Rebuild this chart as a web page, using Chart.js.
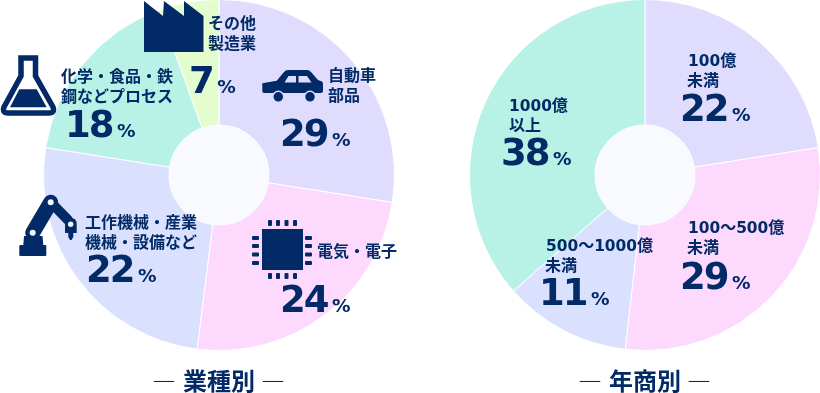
<!DOCTYPE html>
<html lang="ja">
<head>
<meta charset="utf-8">
<script src="https://cdn.jsdelivr.net/npm/chart.js@4"></script>
<style>
html,body{margin:0;padding:0;background:#fff;width:820px;height:393px;overflow:hidden}
#stage{position:relative;width:820px;height:393px;color:#022a66;font-family:"Noto Sans CJK JP","Noto Sans",sans-serif}
canvas{position:absolute;top:0}
svg{position:absolute;left:0;top:0}
.lab{position:absolute;font-size:16px;line-height:20px;font-weight:700;white-space:nowrap;letter-spacing:0}
.num{font-family:"DejaVu Sans";font-weight:700;font-size:15.4px}
.big{position:absolute;white-space:nowrap;font-family:"DejaVu Sans";font-weight:700;line-height:44px;height:44px}
.big b{font-size:37px;font-weight:700;letter-spacing:-2px}
.big i{font-style:normal;font-size:18.5px;margin-left:4.5px}
.title{position:absolute;top:363px;width:240px;text-align:center;font-size:24px;line-height:34px;font-weight:700;white-space:nowrap}
.title span{font-weight:500;display:inline-block;margin:0 7px 0 6px}
</style>
</head>
<body>
<div id="stage">
<canvas id="c1" width="352" height="352" style="left:43px;top:-1px"></canvas>
<canvas id="c2" width="352" height="352" style="left:469px;top:-1px"></canvas>
<svg width="820" height="393" fill="#022a66">
  <!-- factory -->
  <path d="M144 1L163 16L164 1L184 16L184 1L203.5 16V52H144Z"/>
  <!-- flask -->
  <path d="M21 58H35.500V76L53 107Q55 113 49 113H8Q2 113 4 107L21 76Z" fill="none" stroke="#022a66" stroke-width="5.500"/>
  <path d="M19.300 89.300H36.700L46.700 107.300H10Z"/>
  <!-- car -->
  <path fill-rule="evenodd" d="M262.300 83.300L276.700 80.700L284 72Q285.500 70 288 70H307Q309.500 70 311 72L318 80L322 81.500Q323 82 323 84V91Q323 93 321 93H264Q262.300 93 262.300 91ZM288.500 76L284.500 82.500H296V76ZM298.500 76V82.500H311.500L307 76Z"/>
  <circle cx="278.300" cy="96.800" r="5.500" stroke="#dfdcfd" stroke-width="1.500"/>
  <circle cx="310" cy="96.800" r="5.500" stroke="#dfdcfd" stroke-width="1.500"/>
  <!-- chip -->
  <rect x="262" y="229" width="41" height="41"/>
  <g id="pins">
    <rect x="268" y="220" width="4" height="6" rx="1"/><rect x="276" y="220" width="4" height="6" rx="1"/><rect x="284.500" y="220" width="4" height="6" rx="1"/><rect x="293" y="220" width="4" height="6" rx="1"/>
    <rect x="268" y="273" width="4" height="6" rx="1"/><rect x="276" y="273" width="4" height="6" rx="1"/><rect x="284.500" y="273" width="4" height="6" rx="1"/><rect x="293" y="273" width="4" height="6" rx="1"/>
    <rect x="252" y="236" width="7" height="4" rx="1"/><rect x="252" y="244" width="7" height="4" rx="1"/><rect x="252" y="252.500" width="7" height="4" rx="1"/><rect x="252" y="261" width="7" height="4" rx="1"/>
    <rect x="305" y="236" width="7" height="4" rx="1"/><rect x="305" y="244" width="7" height="4" rx="1"/><rect x="305" y="252.500" width="7" height="4" rx="1"/><rect x="305" y="261" width="7" height="4" rx="1"/>
  </g>
  <!-- robot -->
  <rect x="19.300" y="245" width="27" height="11" rx="1"/>
  <path d="M23.300 245L24 236H42.500L43.300 245Z"/>
  <path d="M50.700 202.300L68 220" stroke="#022a66" stroke-width="10" stroke-linecap="round"/>
  <path d="M32.700 232.700L50.700 202.300" stroke="#022a66" stroke-width="15" stroke-linecap="round"/>
  <path d="M65 224Q65 218 71 218Q76.700 218 76.700 224V233H65Z"/>
  <path d="M68.300 233H73.300V237L71.500 240H70L68.300 237Z"/>
  <circle cx="32.700" cy="232.700" r="3" fill="#f4f6fe"/>
  <circle cx="50.700" cy="202.300" r="3" fill="#f4f6fe"/>
  <circle cx="70.700" cy="224.300" r="2.700" fill="#f4f6fe"/>
</svg>
<div id="labels"></div>
<div class="title" style="left:99px"><span>―</span>業種別<span>―</span></div>
<div class="title" style="left:525px"><span>―</span>年商別<span>―</span></div>
</div>
<script>
// Industry breakdown
const industryNames = ["自動車部品", "電気・電子", "工作機械・産業機械・設備など", "化学・食品・鉄鋼などプロセス", "その他製造業"];
const industryPrinted = [29, 24, 22, 18, 7];           // numbers printed on the picture
const industrySweep = [27.5, 24.5, 25.5, 17, 5.5];     // slice sizes
const industryColors = ["#dfdcfd", "#fcd9fd", "#d9e1fe", "#b8f2e6", "#e3fdce"];
// Revenue breakdown
const revenueNames = ["100億未満", "100～500億未満", "500～1000億未満", "1000億以上"];
const revenuePrinted = [22, 29, 11, 38];
const revenueSweep = [22.5, 29.3, 11.7, 36.5];
const revenueColors = ["#dfdcfd", "#fcd9fd", "#d9e1fe", "#b8f2e6"];
const holeColor = "#f9faff";
const chartTitles = ["業種別", "年商別"];

const holePlugin = {
  id: "hole",
  afterDatasetsDraw(chart) {
    const arc = chart.getDatasetMeta(0).data[0];
    const c = chart.ctx;
    c.save();
    c.fillStyle = holeColor;
    c.beginPath();
    c.arc(arc.x, arc.y, arc.innerRadius, 0, Math.PI * 2);
    c.fill();
    c.restore();
  }
};
function pie(id, names, values, colors) {
  new Chart(document.getElementById(id), {
    type: "doughnut",
    plugins: [holePlugin],
    data: { labels: names, datasets: [{ data: values, backgroundColor: colors, borderColor: "#ffffff", borderWidth: 1, hoverOffset: 0 }] },
    options: {
      responsive: false, animation: false, cutout: 50,
      layout: { padding: 0 },
      plugins: { legend: { display: false }, tooltip: { enabled: false }, title: { display: false } }
    }
  });
}
pie("c1", industryNames, industrySweep, industryColors);
pie("c2", revenueNames, revenueSweep, revenueColors);

// Text overlay: [left, centre-y, html]
const d = s => s.replace(/[0-9]+/g, m => '<span class="num">' + m + '</span>');
const textLines = [
  [208, 22, "その他"], [208, 42, "製造業"],
  [328, 74, "自動車"], [328, 94, "部品"],
  [61, 75, "化学・食品・鉄"], [61, 95, "鋼などプロセス"],
  [85, 221, "工作機械・産業"], [85, 241, "機械・設備など"],
  [317, 250, "電気・電子"],
  [688, 59, "100億"], [687, 79, "未満"],
  [688, 226, "100～500億"], [687, 246, "未満"],
  [546, 244, "500～1000億"], [545, 264, "未満"],
  [509, 104, "1000億"], [509, 124, "以上"]
];
// [left, baseline, printed value]
const bigNumbers = [
  [280, 147, industryPrinted[0]], [280, 313, industryPrinted[1]], [86, 283, industryPrinted[2]],
  [65, 138, industryPrinted[3]], [189, 94, industryPrinted[4]],
  [680, 122, revenuePrinted[0]], [680, 290, revenuePrinted[1]], [539, 306, revenuePrinted[2]], [501, 166, revenuePrinted[3]]
];
const host = document.getElementById("labels");
textLines.forEach(([x, y, t]) => {
  const e = document.createElement("div");
  e.className = "lab";
  e.style.left = x + "px";
  e.style.top = (y - 10) + "px";
  e.innerHTML = d(t);
  host.appendChild(e);
});
bigNumbers.forEach(([x, y, v]) => {
  const e = document.createElement("div");
  e.className = "big";
  e.style.left = x + "px";
  e.style.top = (y - 34.8) + "px";
  e.innerHTML = "<b>" + v + "</b><i>%</i>";
  host.appendChild(e);
});
</script>
</body>
</html>
